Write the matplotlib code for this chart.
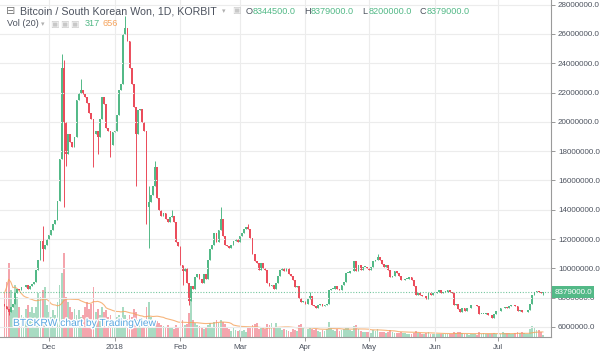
import numpy as np
import matplotlib
matplotlib.use('Agg')
import matplotlib.pyplot as plt
import matplotlib.dates as mdates
import matplotlib.patheffects as pe
import matplotlib.transforms as mtransforms
import pandas as pd

plt.rcParams['font.family'] = ['Liberation Sans', 'DejaVu Sans']

# daily closes, million KRW (Korbit BTC/KRW)
close_nov = [7.45, 7.25, 7.05, 7.35, 7.6, 8.3, 8.6, 8.55, 8.7, 8.75, 8.85, 8.6, 8.8, 8.95,
             9.05, 9.9, 10.6, 11.9, 11.3, 11.6, 12.0]
close_dec = [12.3, 12.6, 13.0, 13.3, 14.6, 17.5, 23.7, 20.0, 17.8, 19.2, 18.6, 18.3, 19.0, 21.5,
             22.0, 22.2, 21.9, 21.7, 21.3, 20.6, 20.2, 19.2, 19.4, 19.0, 20.2, 21.7, 21.2, 19.6,
             19.4, 18.4, 19.3]
close_jan = [19.4, 20.5, 22.2, 22.6, 26.0, 26.4, 25.5, 23.7, 22.6, 21.0, 19.2, 20.8, 20.9, 20.0,
             19.4, 14.2, 14.5, 15.0, 15.6, 16.9, 14.8, 14.0, 13.6, 13.8, 13.4, 13.2, 13.5, 13.6,
             13.2, 11.8, 11.5]
close_feb = [10.2, 9.8, 10.0, 9.0, 7.8, 8.8, 8.6, 9.4, 9.6, 9.3, 9.0, 9.6, 9.3, 10.6, 11.3, 11.6,
             12.4, 11.8, 12.6, 13.4, 12.2, 11.6, 11.5, 11.4, 11.6, 11.9, 12.0, 11.8]
close_mar = [12.2, 12.4, 12.7, 12.8, 12.7, 12.1, 11.0, 10.5, 10.4, 9.9, 10.4, 10.0, 9.9, 9.0, 8.8,
             8.9, 8.6, 9.0, 9.5, 9.9, 10.0, 9.8, 10.0, 9.6, 9.5, 9.2, 8.7, 8.8, 8.0, 7.7, 7.8]
close_apr = [7.6, 7.9, 8.1, 7.5, 7.4, 7.3, 7.5, 7.6, 7.4, 7.5, 7.6, 8.5, 8.6, 8.6, 8.8, 8.6, 8.5,
             8.9, 9.1, 9.7, 9.7, 9.8, 9.8, 10.5, 9.8, 10.2, 9.9, 10.1, 10.1, 10.0]
close_may = [9.9, 10.1, 10.5, 10.6, 10.8, 10.6, 10.3, 10.1, 10.2, 9.9, 9.4, 9.5, 9.8, 9.7, 9.5,
             9.2, 9.2, 9.3, 9.3, 9.4, 9.2, 8.8, 8.2, 8.3, 8.2, 8.1, 8.1, 7.9, 8.3, 8.2, 8.3]
close_jun = [8.3, 8.4, 8.5, 8.3, 8.4, 8.4, 8.5, 8.4, 8.3, 7.5, 7.6, 7.2, 7.0, 7.3, 7.1, 7.3, 7.3,
             7.5, 7.5, 7.5, 7.4, 6.9, 6.9, 6.9, 6.95, 6.8, 6.85, 6.6, 6.9, 7.1]
close_jul = [7.1, 7.3, 7.3, 7.35, 7.3, 7.4, 7.5, 7.5, 7.4, 7.1, 7.15, 7.0, 7.0, 7.05, 7.15, 7.6,
             8.2, 8.4, 8.45, 8.4, 8.3445, 8.379]
first_open = 7.6

# long wicks, million KRW
wick_high = {'2017-11-28': 12.9, '2017-12-07': 24.6, '2017-12-08': 24.2, '2017-12-16': 22.9,
             '2018-01-06': 27.2, '2018-01-17': 15.6, '2018-01-20': 17.3, '2018-01-28': 14.0,
             '2018-02-20': 14.2, '2018-03-05': 13.0, '2018-04-03': 8.4, '2018-05-05': 11.0}
wick_low = {'2017-11-12': 6.8, '2017-11-28': 10.5, '2017-12-08': 14.2, '2017-12-09': 17.0,
            '2017-12-22': 16.9, '2017-12-24': 17.8, '2017-12-30': 17.6, '2018-01-11': 15.6,
            '2018-01-16': 13.0, '2018-01-17': 11.4, '2018-02-02': 8.9, '2018-02-05': 7.5,
            '2018-07-22': 8.2}

# daily volume, BTC
vol_nov = [5720, 7150, 9620, 6110, 3510, 6760, 5200, 3900, 2860, 2600, 3640, 4160, 3250, 3900,
           3120, 3900, 5720, 5200, 6110, 6500, 4160]
vol_dec = [3250, 2600, 3510, 2860, 4550, 6760, 8320, 10920, 5200, 4550, 3900, 3250, 3640, 2860,
           3510, 2600, 2860, 3900, 4550, 3640, 4290, 6500, 3250, 3640, 2860, 3900, 3250, 3510,
           2600, 2860, 1560]
vol_jan = [1560, 2600, 2860, 2340, 3900, 2860, 2340, 2860, 2600, 3640, 3250, 2210, 1820, 2080,
           1820, 3900, 4550, 2600, 1950, 1820, 2080, 1820, 1560, 1430, 1300, 1560, 1170, 1170,
           1040, 1560, 1300]
vol_feb = [1690, 2210, 1560, 1690, 3120, 5200, 2210, 1820, 1560, 1430, 1170, 1040, 1170, 1560,
           1820, 1300, 1950, 2210, 1820, 2210, 1950, 1690, 1170, 1040, 780, 1170, 910, 780]
vol_mar = [910, 780, 910, 650, 1170, 1300, 1560, 1690, 1820, 1040, 1170, 1300, 1040, 1690, 1560,
           1820, 1170, 1820, 1300, 1170, 910, 1040, 910, 780, 650, 1040, 910, 780, 1560, 1690, 1170]
vol_apr = [1300, 1040, 1170, 1040, 910, 1040, 780, 650, 910, 780, 1040, 1950, 1300, 910, 780,
           1040, 780, 910, 1040, 1300, 1170, 910, 780, 1430, 1560, 1040, 780, 650, 650, 650]
vol_may = [650, 520, 910, 780, 1040, 650, 650, 650, 520, 650, 910, 650, 520, 520, 520, 650, 520,
           520, 390, 390, 390, 520, 780, 520, 520, 390, 390, 520, 650, 390, 390]
vol_jun = [390, 390, 390, 390, 390, 390, 390, 390, 390, 650, 520, 650, 650, 520, 390, 390, 260,
           390, 390, 390, 260, 650, 390, 520, 390, 390, 390, 390, 520, 390]
vol_jul = [390, 390, 600, 500, 550, 480, 450, 380, 500, 700, 550, 600, 520, 380, 450, 1000, 1440,
           1250, 900, 850, 700, 317]

close = close_nov + close_dec + close_jan + close_feb + close_mar + close_apr + close_may + close_jun + close_jul
volume = vol_nov + vol_dec + vol_jan + vol_feb + vol_mar + vol_apr + vol_may + vol_jun + vol_jul

dates = pd.date_range('2017-11-10', periods=len(close), freq='D')
df = pd.DataFrame({'close': np.array(close) * 1e6, 'volume': volume}, index=dates)
df['open'] = df['close'].shift(1).fillna(first_open * 1e6)
df['high'] = df[['open', 'close']].max(axis=1)
df['low'] = df[['open', 'close']].min(axis=1)
for d, v in wick_high.items():
    df.loc[d, 'high'] = v * 1e6
for d, v in wick_low.items():
    df.loc[d, 'low'] = v * 1e6
df['vol_ma'] = df['volume'].rolling(20, min_periods=1).mean()

up = '#53b987'
down = '#eb4d5c'
txt = '#4c525e'
x = mdates.date2num(df.index)
is_up = (df['close'] >= df['open']).values
colors = np.where(is_up, up, down)

fig = plt.figure(figsize=(6, 3.54), dpi=100)
rect = [0, 17 / 354, 551 / 600, 337 / 354]

axv = fig.add_axes(rect)
axv.bar(x, df['volume'], width=0.85, color=colors, alpha=0.5, linewidth=0)
axv.plot(x, df['vol_ma'], color='#f5a35c', lw=0.8, alpha=0.8)
axv.set_ylim(0, 337 * 130)
axv.axis('off')

ax = fig.add_axes(rect, sharex=axv)
ax.patch.set_visible(False)
ax.vlines(x, df['low'], df['high'], colors=colors, lw=0.7)
body = (df['close'] - df['open']).abs().clip(lower=30000)
ax.bar(x, body, bottom=df[['open', 'close']].min(axis=1), width=0.85, color=colors, linewidth=0)

last = df['close'].iloc[-1]
ax.axhline(last, color='#53b987', lw=0.8, ls=(0, (1, 1.5)), alpha=0.8)

ax.set_xlim(x[0] - 2.1, x[0] + 257.8)
ax.set_ylim(5.317e6, 28.32e6)

months = pd.date_range('2017-12-01', '2018-07-01', freq='MS')
ax.set_xticks(mdates.date2num(months))
ax.set_xticklabels(['2018' if m.month == 1 else m.strftime('%b') for m in months])
ax.yaxis.tick_right()
ax.set_yticks(np.arange(6e6, 28.1e6, 2e6))
ax.yaxis.set_major_formatter(plt.FuncFormatter(lambda v, p: '%.1f' % v))
ax.tick_params(axis='both', labelsize=5.8, colors='#888888', labelcolor=txt, length=3, width=0.6, pad=2)
ax.grid(True, color='#ececec', lw=0.8)
for s in ['left', 'top']:
    ax.spines[s].set_visible(False)
for s in ['right', 'bottom']:
    ax.spines[s].set_color('#9a9a9a')
    ax.spines[s].set_linewidth(0.8)

trans = mtransforms.blended_transform_factory(ax.transAxes, ax.transData)
ax.text(1.006, last, '%.1f' % last, transform=trans, fontsize=5.8, color='white', va='center', ha='left',
        bbox=dict(boxstyle='square,pad=0.3', fc=up, ec='none'), zorder=10, clip_on=False)

# header text
def fx(px):
    return px / 600

def fy(py):
    return 1 - py / 354

fig.text(fx(6), fy(11), '\u229f', fontsize=8, color='#777777', va='center', family=['DejaVu Sans'])
fig.text(fx(20), fy(11), 'Bitcoin / South Korean Won, 1D, KORBIT', fontsize=7.7, color=txt, va='center')
fig.text(fx(222), fy(11), '\u25be', fontsize=5, color='#b0b0b0', va='center', family=['DejaVu Sans'])
fig.text(fx(232), fy(11), '\u25a3', fontsize=6.5, color='#c8c8c8', va='center', family=['DejaVu Sans'])
ohlc = [('O', df['open'].iloc[-1]), ('H', df['high'].iloc[-1]), ('L', df['low'].iloc[-1]), ('C', last)]
for k, (lab, val) in enumerate(ohlc):
    fig.text(fx(246 + 58 * k), fy(11), lab, fontsize=6.6, color=txt, va='center')
    fig.text(fx(253 + 58 * k), fy(11), '%.1f' % val, fontsize=6.6, color=up, va='center')

fig.text(fx(7), fy(24), 'Vol (20)', fontsize=6.6, color=txt, va='center')
fig.text(fx(41), fy(24), '\u25be', fontsize=5, color='#b0b0b0', va='center', family=['DejaVu Sans'])
for k in range(3):
    fig.text(fx(50 + 10 * k), fy(24), '\u25a3', fontsize=6.5, color='#c8c8c8', va='center', family=['DejaVu Sans'])
fig.text(fx(85), fy(24), '%d' % df['volume'].iloc[-1], fontsize=6.6, color=up, va='center')
fig.text(fx(102), fy(24), '%d' % round(df['vol_ma'].iloc[-1]), fontsize=6.6, color='#f5a35c', va='center')

fig.text(fx(13), fy(323), 'BTCKRW chart by TradingView', fontsize=7.4, color='#5aa7e0', va='center',
         path_effects=[pe.withStroke(linewidth=2, foreground='white')])

fig.savefig('out.png', dpi=100)
